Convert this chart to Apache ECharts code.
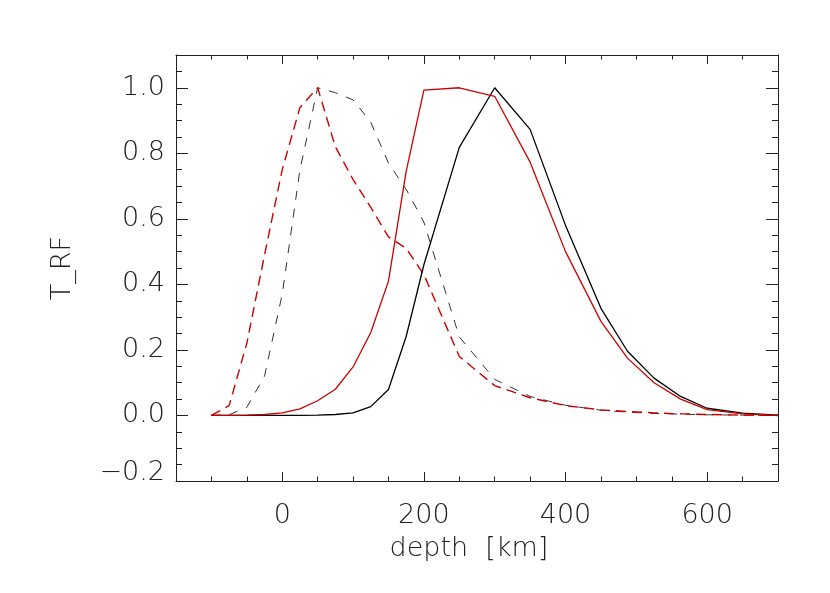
<!DOCTYPE html>
<html lang="en">
<head>
    <meta charset="UTF-8">
    <title>T_RF vs depth</title>
    <script src="https://cdn.jsdelivr.net/npm/echarts@6.0.0/dist/echarts.min.js"></script>
    <style>
        html, body {
            margin: 0;
            padding: 0;
            background: #fff;
        }
        #chart {
            width: 830px;
            height: 593px;
        }
    </style>
</head>
<body>
    <div id="chart"></div>

    <script>
        // depth grid (km)
        const depth = [-100, -75, -50, -25, 0, 25, 50, 75, 100, 125, 150, 175, 200, 250, 300, 350, 400, 450, 487.5, 525, 562.5, 600, 650, 700];

        // response functions
        const blackSolid = [0, 0, 0, 0, 0, 0, 0.001, 0.003, 0.008, 0.027, 0.079, 0.241, 0.46, 0.818, 1.0, 0.873, 0.58, 0.327, 0.196, 0.114, 0.058, 0.022, 0.007, 0.001];
        const redSolid = [0, 0, 0.001, 0.003, 0.008, 0.02, 0.045, 0.08, 0.148, 0.253, 0.41, 0.745, 0.993, 1.0, 0.974, 0.773, 0.5, 0.287, 0.175, 0.1, 0.05, 0.018, 0.005, 0.0];
        const blackDash = [0, 0.002, 0.025, 0.12, 0.37, 0.75, 1.0, 0.985, 0.963, 0.895, 0.77, 0.69, 0.59, 0.24, 0.11, 0.058, 0.031, 0.016, 0.01, 0.006, 0.004, 0.002, 0.001, 0];
        const redDash = [0, 0.03, 0.22, 0.49, 0.75, 0.94, 1.0, 0.82, 0.72, 0.635, 0.545, 0.51, 0.43, 0.18, 0.091, 0.054, 0.03, 0.017, 0.012, 0.008, 0.005, 0.003, 0.001, 0];

        // axis ticks
        const xMajor = [0, 200, 400, 600];

        const FONT = '"DejaVu Sans", Lato, sans-serif';
        const FW = 200;
        const TXT = '#222';
        const AX = '#222';

        function pairs(ys) {
            return depth.map((d, i) => [d, ys[i]]);
        }

        function xAxisDef(pos, major, labels) {
            return {
                type: 'value',
                position: pos,
                min: -150,
                max: 700,
                interval: 50,
                splitLine: { show: false },
                axisLine: { show: !major, onZero: false, lineStyle: { color: AX, width: 1 } },
                axisTick: major
                    ? { show: true, inside: true, length: 9, customValues: xMajor, lineStyle: { color: AX } }
                    : { show: true, inside: true, length: 4.5, lineStyle: { color: AX } },
                axisLabel: labels
                    ? { show: true, customValues: xMajor, margin: 21, fontFamily: FONT, fontWeight: FW, fontSize: 27, color: TXT }
                    : { show: false }
            };
        }

        function yAxisDef(pos, labels) {
            return {
                type: 'value',
                position: pos,
                min: -0.2,
                max: 1.1,
                interval: 0.2,
                splitLine: { show: false },
                axisLine: { show: true, onZero: false, lineStyle: { color: AX, width: 1 } },
                axisTick: { show: true, inside: true, length: 12, lineStyle: { color: AX } },
                minorTick: { show: true, splitNumber: 4, length: 6, lineStyle: { color: AX } },
                minorSplitLine: { show: false },
                axisLabel: labels ? {
                    show: true,
                    margin: 11,
                    fontFamily: FONT,
                    fontWeight: FW,
                    fontSize: 27,
                    color: TXT,
                    showMaxLabel: false,
                    formatter: v => {
                        if (v < 0) return '{lo|\u2212' + Math.abs(v).toFixed(1) + '}';
                        return v.toFixed(1);
                    },
                    rich: {
                        lo: { fontFamily: FONT, fontWeight: FW, fontSize: 27, color: TXT, padding: [0, 0, 16, 0] }
                    }
                } : { show: false }
            };
        }

        const chart = echarts.init(document.getElementById('chart'), null, { renderer: 'canvas' });

        const x0 = xAxisDef('bottom', false, true);
        x0.name = 'depth  [km]';
        x0.nameLocation = 'middle';
        x0.nameGap = 54;
        x0.nameTextStyle = { fontFamily: FONT, fontWeight: FW, fontSize: 27, color: TXT, padding: [0, 16, 0, 0] };

        const y0 = yAxisDef('left', true);
        y0.name = 'T_RF';
        y0.nameLocation = 'middle';
        y0.nameGap = 100;
        y0.nameTextStyle = { fontFamily: FONT, fontWeight: FW, fontSize: 27, color: TXT };

        const option = {
            animation: false,
            backgroundColor: '#fff',
            grid: { left: 176, right: 52, top: 55, bottom: 112, containLabel: false, outerBoundsMode: 'none' },
            xAxis: [
                x0,
                xAxisDef('bottom', true, false),
                xAxisDef('top', false, false),
                xAxisDef('top', true, false)
            ],
            yAxis: [
                y0,
                yAxisDef('right', false)
            ],
            series: [
                {
                    name: 'black dashed', type: 'line', data: pairs(blackDash),
                    showSymbol: false, lineStyle: { color: '#333', width: 1, type: [9, 9] }
                },
                {
                    name: 'red dashed', type: 'line', data: pairs(redDash),
                    showSymbol: false, lineStyle: { color: '#cc0000', width: 1.4, type: [10, 6] }
                },
                {
                    name: 'black solid', type: 'line', data: pairs(blackSolid),
                    showSymbol: false, lineStyle: { color: '#000', width: 1.3 }
                },
                {
                    name: 'red solid', type: 'line', data: pairs(redSolid),
                    showSymbol: false, lineStyle: { color: '#cc0000', width: 1.3 }
                }
            ]
        };

        chart.setOption(option);
    </script>
</body>
</html>
